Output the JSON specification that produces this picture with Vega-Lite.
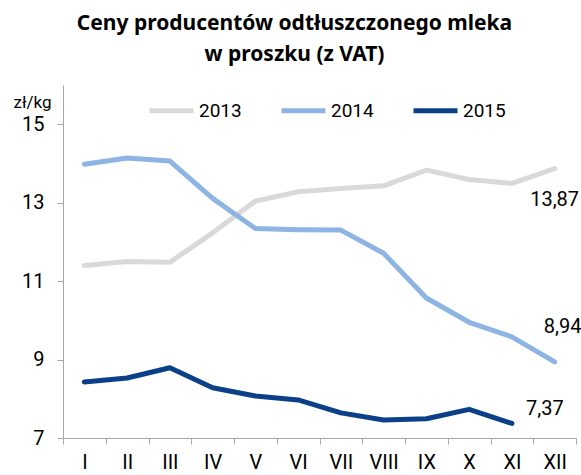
{
  "$schema": "https://vega.github.io/schema/vega-lite/v6.json",
  "width": 513,
  "height": 353,
  "autosize": {"type": "none"},
  "padding": {"left": 63, "top": 85, "right": 5, "bottom": 37},
  "config": {
    "view": {"stroke": null},
    "font": "Roboto",
    "locale": {"number": {"decimal": ",", "thousands": " ", "grouping": [3], "currency": ["", " zł"]}}
  },
  "title": {
    "text": ["Ceny producentów odtłuszczonego mleka", "w proszku (z VAT)"],
    "font": "Noto Sans",
    "fontSize": 21,
    "fontWeight": "bold",
    "color": "#000000",
    "anchor": "middle",
    "frame": "group",
    "dx": -25,
    "offset": 20,
    "lineHeight": 31
  },
  "data": {
    "values": [
      {"month": "I", "year": "2013", "value": 11.40},
      {"month": "II", "year": "2013", "value": 11.50},
      {"month": "III", "year": "2013", "value": 11.48},
      {"month": "IV", "year": "2013", "value": 12.23},
      {"month": "V", "year": "2013", "value": 13.04},
      {"month": "VI", "year": "2013", "value": 13.28},
      {"month": "VII", "year": "2013", "value": 13.36},
      {"month": "VIII", "year": "2013", "value": 13.43},
      {"month": "IX", "year": "2013", "value": 13.83},
      {"month": "X", "year": "2013", "value": 13.59},
      {"month": "XI", "year": "2013", "value": 13.49},
      {"month": "XII", "year": "2013", "value": 13.87},
      {"month": "I", "year": "2014", "value": 13.98},
      {"month": "II", "year": "2014", "value": 14.14},
      {"month": "III", "year": "2014", "value": 14.06},
      {"month": "IV", "year": "2014", "value": 13.11},
      {"month": "V", "year": "2014", "value": 12.34},
      {"month": "VI", "year": "2014", "value": 12.31},
      {"month": "VII", "year": "2014", "value": 12.30},
      {"month": "VIII", "year": "2014", "value": 11.71},
      {"month": "IX", "year": "2014", "value": 10.57},
      {"month": "X", "year": "2014", "value": 9.95},
      {"month": "XI", "year": "2014", "value": 9.58},
      {"month": "XII", "year": "2014", "value": 8.94},
      {"month": "I", "year": "2015", "value": 8.43},
      {"month": "II", "year": "2015", "value": 8.53},
      {"month": "III", "year": "2015", "value": 8.79},
      {"month": "IV", "year": "2015", "value": 8.28},
      {"month": "V", "year": "2015", "value": 8.07},
      {"month": "VI", "year": "2015", "value": 7.97},
      {"month": "VII", "year": "2015", "value": 7.64},
      {"month": "VIII", "year": "2015", "value": 7.46},
      {"month": "IX", "year": "2015", "value": 7.49},
      {"month": "X", "year": "2015", "value": 7.73},
      {"month": "XI", "year": "2015", "value": 7.37}
    ]
  },
  "encoding": {
    "x": {
      "field": "month",
      "type": "ordinal",
      "sort": ["I", "II", "III", "IV", "V", "VI", "VII", "VIII", "IX", "X", "XI", "XII"],
      "bandPosition": 0.5,
      "scale": {"type": "band", "paddingInner": 0, "paddingOuter": 0},
      "axis": {
        "title": null,
        "labelAngle": 0,
        "tickBand": "extent",
        "labelFontSize": 20,
        "labelPadding": 8,
        "labelColor": "#000000",
        "tickSize": 6,
        "tickColor": "#a6a6a6",
        "domainColor": "#a6a6a6",
        "grid": false
      }
    },
    "y": {
      "field": "value",
      "type": "quantitative",
      "scale": {"domain": [7, 16], "nice": false, "zero": false},
      "axis": {
        "title": "zł/kg",
        "titleAngle": 0,
        "titleX": -31,
        "titleY": 26,
        "titleAlign": "center",
        "titleBaseline": "bottom",
        "titleFontSize": 17,
        "titleFontWeight": "normal",
        "titleColor": "#000000",
        "values": [7, 9, 11, 13, 15],
        "grid": false,
        "tickSize": 6,
        "tickColor": "#a6a6a6",
        "domainColor": "#a6a6a6",
        "labelFontSize": 20,
        "labelPadding": 13,
        "labelColor": "#000000"
      }
    }
  },
  "layer": [
    {
      "mark": {"type": "line", "strokeWidth": 5, "strokeCap": "round", "strokeJoin": "round"},
      "encoding": {
        "color": {
          "field": "year",
          "type": "nominal",
          "scale": {"domain": ["2013", "2014", "2015"], "range": ["#d9d9d9", "#8db4e2", "#0b4088"]},
          "legend": {
            "title": null,
            "orient": "none",
            "direction": "horizontal",
            "legendX": 84,
            "legendY": 1,
            "symbolType": "stroke",
            "symbolSize": 1936,
            "symbolStrokeWidth": 5,
            "labelFontSize": 19,
            "labelColor": "#000000",
            "labelOffset": 3,
            "columnPadding": 29
          }
        }
      }
    },
    {
      "transform": [{"filter": "datum.year == '2013' && datum.month == 'XII'"}],
      "mark": {"type": "text", "dy": 31, "fontSize": 20, "align": "center", "baseline": "middle", "color": "#000000"},
      "encoding": {"text": {"field": "value", "type": "quantitative", "format": ".2f"}}
    },
    {
      "transform": [{"filter": "datum.year == '2014' && datum.month == 'XII'"}],
      "mark": {"type": "text", "dx": 8, "dy": -35, "fontSize": 20, "align": "center", "baseline": "middle", "color": "#000000"},
      "encoding": {"text": {"field": "value", "type": "quantitative", "format": ".2f"}}
    },
    {
      "transform": [{"filter": "datum.year == '2015' && datum.month == 'XI'"}],
      "mark": {"type": "text", "dx": 33, "dy": -14, "fontSize": 20, "align": "center", "baseline": "middle", "color": "#000000"},
      "encoding": {"text": {"field": "value", "type": "quantitative", "format": ".2f"}}
    }
  ]
}
